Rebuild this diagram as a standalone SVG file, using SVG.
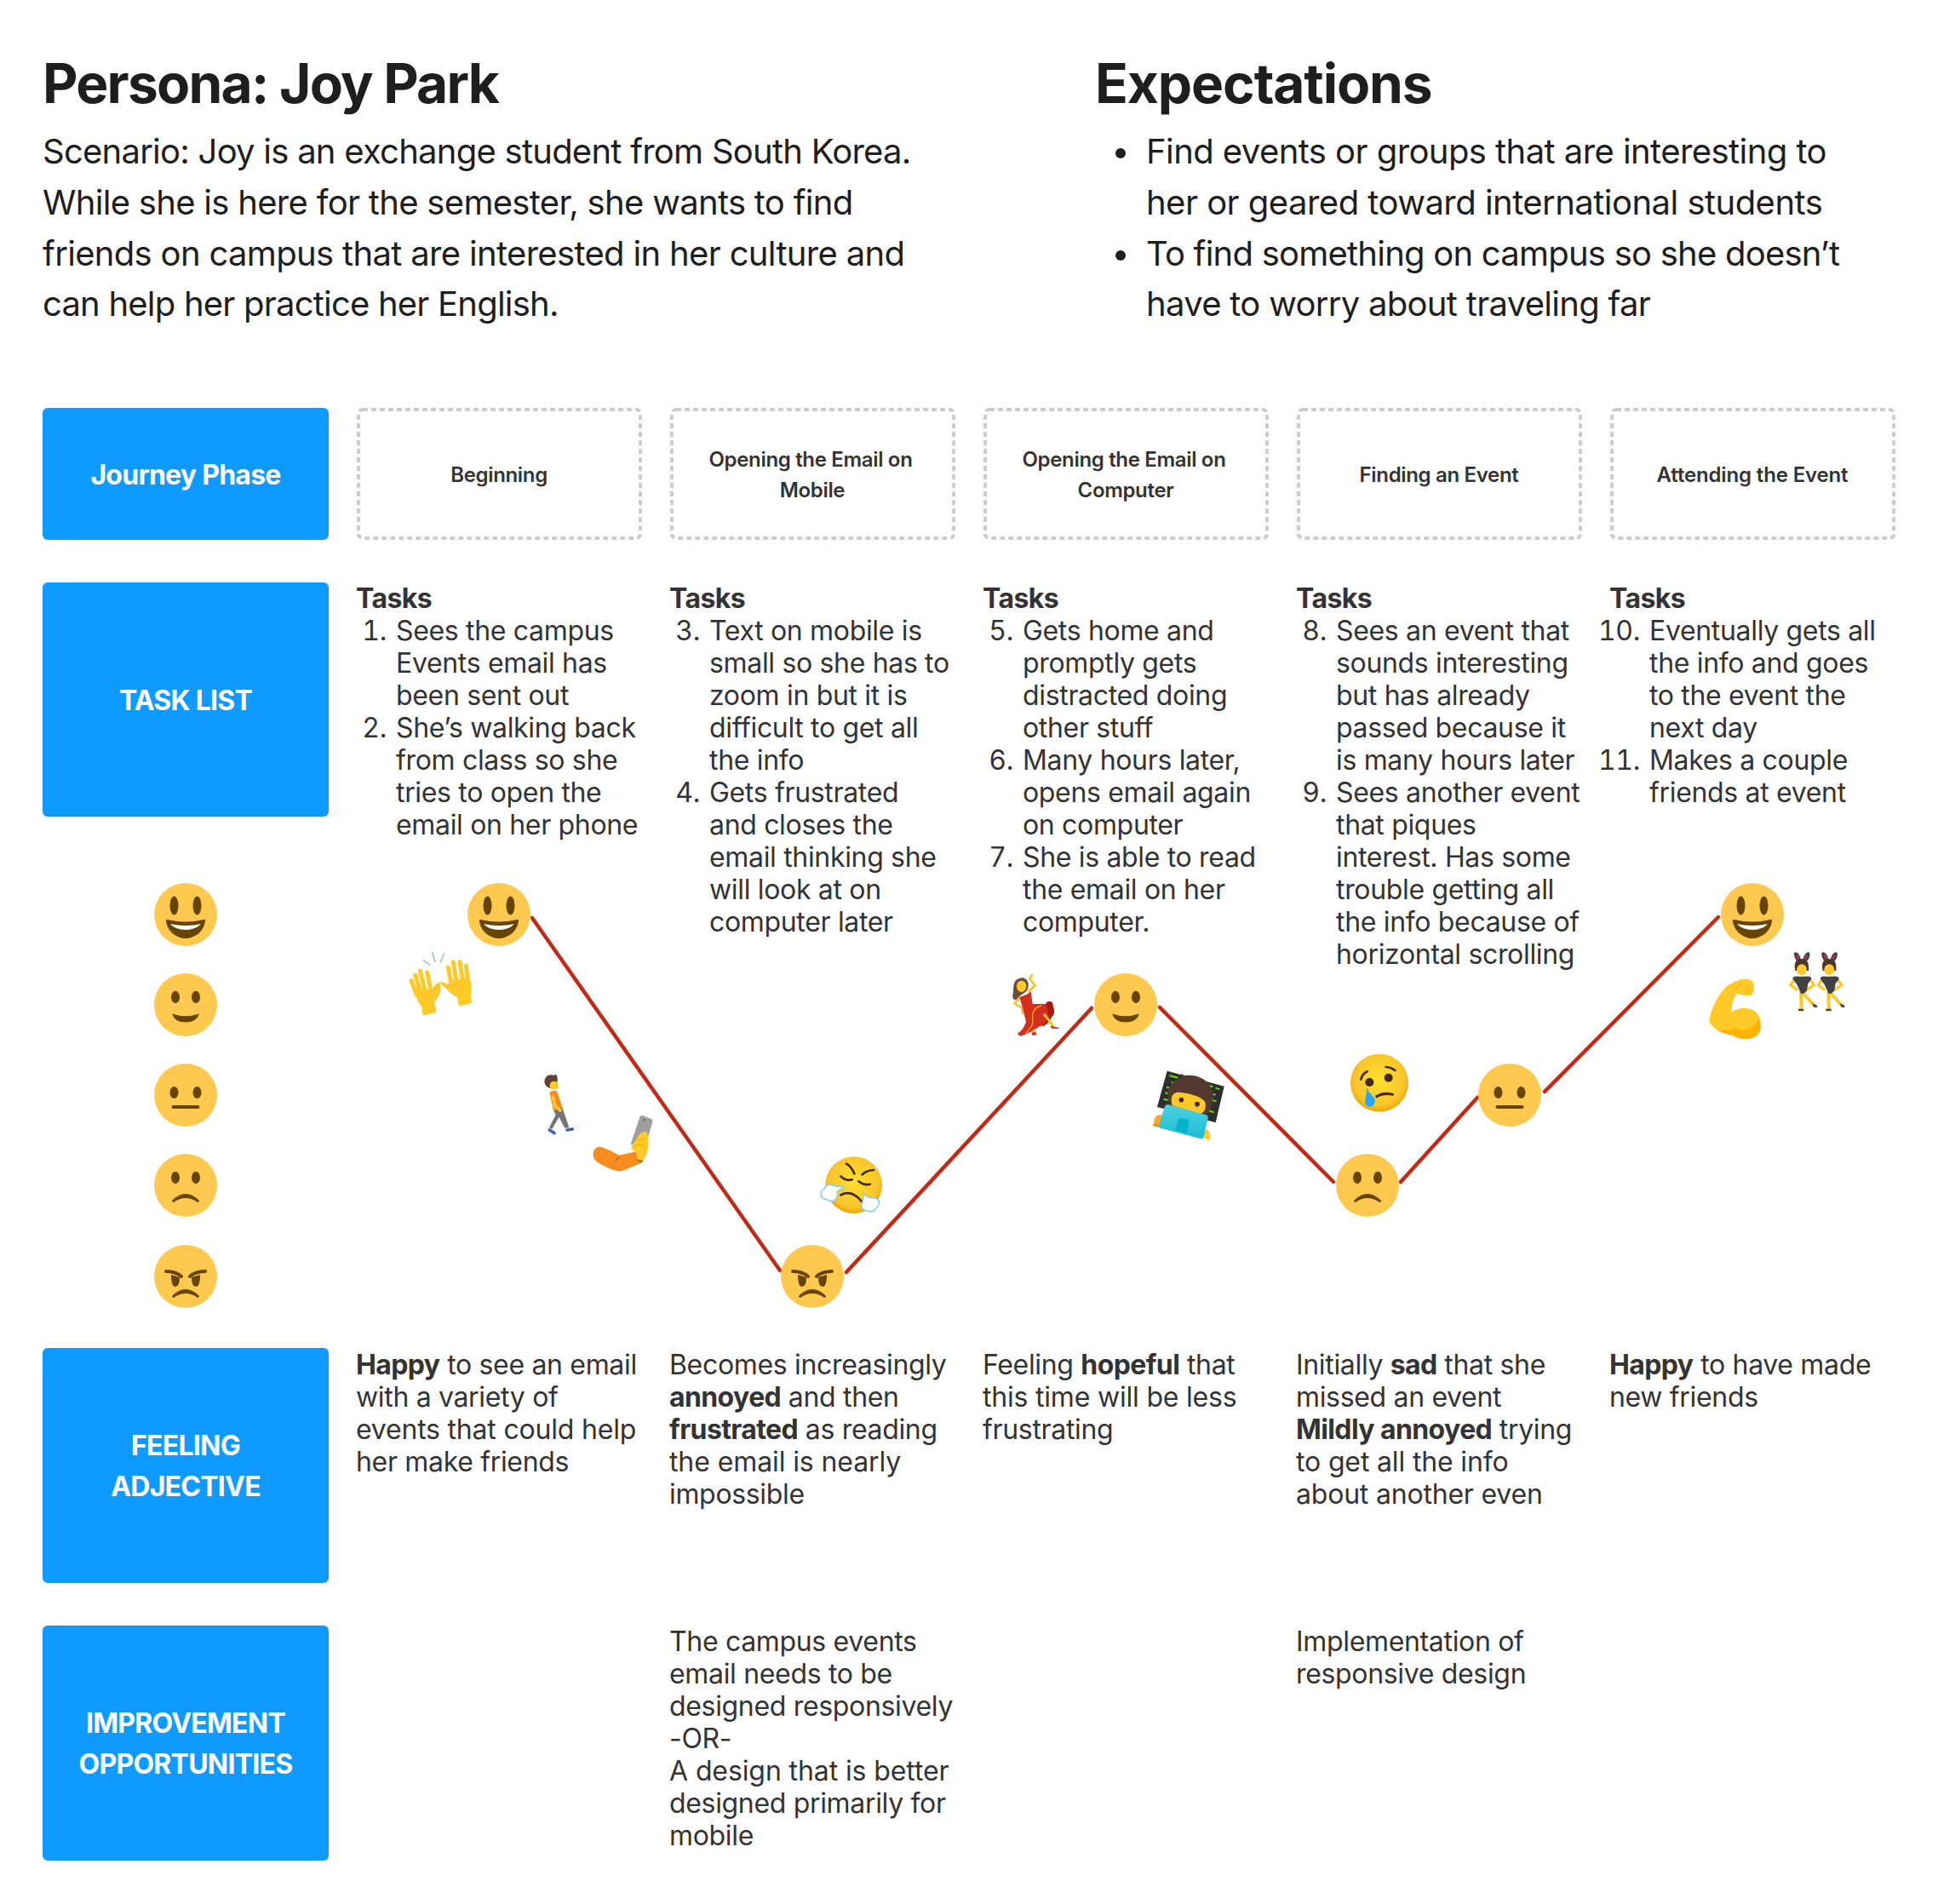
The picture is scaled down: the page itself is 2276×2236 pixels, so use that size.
<svg xmlns="http://www.w3.org/2000/svg" width="2276" height="2236" viewBox="0 0 2276 2236">
<style>
text{font-family:"Inter","Liberation Sans",sans-serif;fill:#333;}
.t{font-size:64px;font-weight:700;fill:#1e1e1e}
.b{font-size:40px;fill:#1e1e1e;letter-spacing:-.7px}
.s{font-size:32px;letter-spacing:-.33px}
.h{font-weight:700;letter-spacing:-.6px}
.n{text-anchor:end;font-variant-numeric:tabular-nums}
.lab{font-size:32px;font-weight:700;fill:#fff;text-anchor:middle;letter-spacing:-.75px}
.ph{font-size:24px;font-weight:600;text-anchor:middle;letter-spacing:-.33px}
.blue{fill:#0f9aff}
.dash{fill:none;stroke:#ccc;stroke-width:4;stroke-dasharray:6 4}
.conn line{stroke:#c12a17;stroke-width:4.5;stroke-linecap:round}
.f{fill:#ffc94f}.d{fill:#664500}
.y{fill:#ffca28}
.ol{fill:none;stroke-linecap:round;stroke-linejoin:round}
.fg{fill:none;stroke:#ffca28;stroke-width:15;stroke-linecap:round}
</style>
<defs>
<radialGradient id="g1" cx=".5" cy=".45" r=".55"><stop offset="0" stop-color="#fde030"/><stop offset=".8" stop-color="#f8c52b"/><stop offset="1" stop-color="#eda600"/></radialGradient>
<linearGradient id="g2" x1="0" y1="0" x2="0" y2="1"><stop offset="0" stop-color="#4dd0e1"/><stop offset="1" stop-color="#1cbcd6"/></linearGradient>
<g id="e5"><circle class="f" r="37"/><ellipse class="d" cx="-13.5" cy="-10.5" rx="5" ry="11"/><ellipse class="d" cx="13.5" cy="-10.5" rx="5" ry="11"/><path class="d" d="M-23 7Q-23 5-21 6Q0 11 21 6Q23 5 23 7C22 20 10 28 0 28C-10 28-22 20-23 7Z"/><path fill="#fff" d="M-18 11Q0 15 18 11Q12 18 0 18Q-12 18-18 11Z"/></g>
<g id="e4"><circle class="f" r="37"/><ellipse class="d" cx="-12" cy="-9" rx="5" ry="7.2"/><ellipse class="d" cx="12" cy="-9" rx="5" ry="7.2"/><path class="d" d="M-16 10.5Q0 16 16 10.5Q13 20.500 0 20.500Q-13 20.500-16 10.500Z"/></g>
<g id="e3"><circle class="f" r="37"/><ellipse class="d" cx="-13.500" cy="-3" rx="5" ry="7"/><ellipse class="d" cx="13.500" cy="-3" rx="5" ry="7"/><rect class="d" x="-16.500" y="12" width="33" height="4" rx="2"/></g>
<g id="e2"><circle class="f" r="37"/><ellipse class="d" cx="-12" cy="-9" rx="5" ry="7.200"/><ellipse class="d" cx="12" cy="-9" rx="5" ry="7.200"/><path class="d" d="M-16 18Q-8 10 0 10Q8 10 16 18Q16 20 14 20Q7 15 0 15Q-7 15-14 20Q-16 20-16 18Z"/></g>
<g id="e1"><circle class="f" r="37"/><path class="d" d="M-17-2L-7 1Q-7 12-12 12Q-17 12-17-2ZM17-2L7 1Q7 12 12 12Q17 12 17-2Z"/><path stroke="#664500" stroke-width="4" fill="none" stroke-linecap="round" d="M-23-6Q-12-6-5 0M23-6Q12-6 5 0"/><path class="d" d="M-16 23Q-8 15 0 15Q8 15 16 23Q16 25 14 25Q7 20 0 20Q-7 20-14 25Q-16 25-16 23Z"/></g>
</defs>
<rect width="2276" height="2236" fill="#fff"/>
<g id="persona">
<text class="t" x="50" y="121" style="letter-spacing:-1.75px">Persona: Joy Park</text>
<text class="b" x="50" y="192" style="letter-spacing:-.75px">Scenario: Joy is an exchange student from South Korea.</text>
<text class="b" x="50" y="252">While she is here for the semester, she wants to find</text>
<text class="b" x="50" y="312" style="letter-spacing:-.67px">friends on campus that are interested in her culture and</text>
<text class="b" x="50" y="371" style="letter-spacing:-.79px">can help her practice her English.</text>
</g>
<g id="expectations">
<text class="t" x="1286" y="121" style="letter-spacing:-1.1px">Expectations</text>
<circle cx="1316" cy="180" r="6" fill="#1e1e1e"/>
<circle cx="1316" cy="300" r="6" fill="#1e1e1e"/>
<text class="b" x="1346" y="192" style="letter-spacing:-.57px">Find events or groups that are interesting to</text>
<text class="b" x="1346" y="252" style="letter-spacing:-.53px">her or geared toward international students</text>
<text class="b" x="1346" y="312" style="letter-spacing:-.77px">To find something on campus so she doesn’t</text>
<text class="b" x="1346" y="371">have to worry about traveling far</text>
</g>
<g id="journey-phase"><rect class="blue" x="50" y="479" width="336" height="155" rx="6"/><text class="lab" x="218" y="569">Journey Phase</text></g>
<g id="phase-1"><rect class="dash" x="421" y="481" width="331" height="151" rx="5"/><text class="ph" x="586" y="566">Beginning</text></g>
<g id="phase-2"><rect class="dash" x="789" y="481" width="331" height="151" rx="5"/><text class="ph" x="952" y="548">Opening the Email on</text><text class="ph" x="954" y="584">Mobile</text></g>
<g id="phase-3"><rect class="dash" x="1157" y="481" width="331" height="151" rx="5"/><text class="ph" x="1320" y="548">Opening the Email on</text><text class="ph" x="1322" y="584">Computer</text></g>
<g id="phase-4"><rect class="dash" x="1525" y="481" width="331" height="151" rx="5"/><text class="ph" x="1690" y="566">Finding an Event</text></g>
<g id="phase-5"><rect class="dash" x="1893" y="481" width="331" height="151" rx="5"/><text class="ph" x="2058" y="566" style="letter-spacing:-.15px">Attending the Event</text></g>

<g id="task-list"><rect class="blue" x="50" y="684" width="336" height="275" rx="6"/><text class="lab" x="218" y="834">TASK LIST</text></g>
<g id="tasks-1">
<text class="s h" x="418" y="714">Tasks</text>
<text class="s n" x="454" y="752">1.</text><text class="s" x="465" y="752">Sees the campus</text>
<text class="s" x="465" y="790">Events email has</text>
<text class="s" x="465" y="828">been sent out</text>
<text class="s n" x="454" y="866">2.</text><text class="s" x="465" y="866">She’s walking back</text>
<text class="s" x="465" y="904">from class so she</text>
<text class="s" x="465" y="942">tries to open the</text>
<text class="s" x="465" y="980">email on her phone</text>
</g>
<g id="tasks-2">
<text class="s h" x="786" y="714">Tasks</text>
<text class="s n" x="822" y="752">3.</text><text class="s" x="833" y="752">Text on mobile is</text>
<text class="s" x="833" y="790">small so she has to</text>
<text class="s" x="833" y="828">zoom in but it is</text>
<text class="s" x="833" y="866">difficult to get all</text>
<text class="s" x="833" y="904">the info</text>
<text class="s n" x="822" y="942">4.</text><text class="s" x="833" y="942">Gets frustrated</text>
<text class="s" x="833" y="980">and closes the</text>
<text class="s" x="833" y="1018">email thinking she</text>
<text class="s" x="833" y="1056">will look at on</text>
<text class="s" x="833" y="1094">computer later</text>
</g>
<g id="tasks-3">
<text class="s h" x="1154" y="714">Tasks</text>
<text class="s n" x="1190" y="752">5.</text><text class="s" x="1201" y="752">Gets home and</text>
<text class="s" x="1201" y="790">promptly gets</text>
<text class="s" x="1201" y="828">distracted doing</text>
<text class="s" x="1201" y="866">other stuff</text>
<text class="s n" x="1190" y="904">6.</text><text class="s" x="1201" y="904">Many hours later,</text>
<text class="s" x="1201" y="942">opens email again</text>
<text class="s" x="1201" y="980">on computer</text>
<text class="s n" x="1190" y="1018">7.</text><text class="s" x="1201" y="1018">She is able to read</text>
<text class="s" x="1201" y="1056">the email on her</text>
<text class="s" x="1201" y="1094">computer.</text>
</g>
<g id="tasks-4">
<text class="s h" x="1522" y="714">Tasks</text>
<text class="s n" x="1558" y="752">8.</text><text class="s" x="1569" y="752">Sees an event that</text>
<text class="s" x="1569" y="790">sounds interesting</text>
<text class="s" x="1569" y="828">but has already</text>
<text class="s" x="1569" y="866">passed because it</text>
<text class="s" x="1569" y="904">is many hours later</text>
<text class="s n" x="1558" y="942">9.</text><text class="s" x="1569" y="942">Sees another event</text>
<text class="s" x="1569" y="980">that piques</text>
<text class="s" x="1569" y="1018">interest. Has some</text>
<text class="s" x="1569" y="1056">trouble getting all</text>
<text class="s" x="1569" y="1094">the info because of</text>
<text class="s" x="1569" y="1132">horizontal scrolling</text>
</g>
<g id="tasks-5">
<text class="s h" x="1890" y="714">Tasks</text>
<text class="s n" x="1926" y="752">10.</text><text class="s" x="1937" y="752">Eventually gets all</text>
<text class="s" x="1937" y="790">the info and goes</text>
<text class="s" x="1937" y="828">to the event the</text>
<text class="s" x="1937" y="866">next day</text>
<text class="s n" x="1926" y="904">11.</text><text class="s" x="1937" y="904">Makes a couple</text>
<text class="s" x="1937" y="942">friends at event</text>
</g>

<g id="scale">
<use href="#e5" x="218" y="1074"/><use href="#e4" x="218" y="1180"/><use href="#e3" x="218" y="1286"/><use href="#e2" x="218" y="1392"/><use href="#e1" x="218" y="1499"/>
</g>
<g id="connectors" class="conn">
<line x1="625" y1="1078" x2="916" y2="1492"/>
<line x1="994" y1="1494" x2="1282" y2="1184"/>
<line x1="1362" y1="1183" x2="1566" y2="1388"/>
<line x1="1645" y1="1388" x2="1735" y2="1289"/>
<line x1="1814" y1="1282" x2="2018" y2="1077"/>
</g>
<g id="point-1"><use href="#e5" x="586" y="1074"/></g>
<g id="point-2"><use href="#e1" x="954" y="1499"/></g>
<g id="point-3"><use href="#e4" x="1322" y="1180"/></g>
<g id="point-4"><use href="#e2" x="1606" y="1392"/></g>
<g id="point-5"><use href="#e3" x="1773" y="1286"/></g>
<g id="point-6"><use href="#e5" x="2058" y="1074"/></g>

<g id="emoji-hands" transform="translate(460 1020) scale(.3333)">
<path class="y" d="M110 518L158 507L150 470C170 450 178 420 170 403C158 398 150 412 145 425L78 420C85 455 95 475 105 485Z"/>
<path class="y" d="M238 485L283 473L278 445C285 420 280 400 272 385L205 395L200 408C190 406 178 396 168 402C185 415 210 445 230 452Z"/>
<path class="fg" d="M88 445L69 395M100 432L83 375M116 425L100 360M138 428L125 366M210 405L199 349M228 398L217 329M250 395L240 329M270 402L262 343"/>
<path fill="none" stroke="#f0b41c" stroke-width="3" d="M120 465C125 440 150 425 165 408M250 432C240 410 215 410 195 408"/>
<path fill="none" stroke="#b0c4cc" stroke-width="5.500" stroke-linecap="round" d="M112 324L135 340M143 296L153 328M185 300L172 330"/>
</g>

<g id="emoji-walker" transform="translate(460 1020) scale(.3333)">
<path fill="#757575" d="M570 850L600 838L625 912L610 915L590 875L565 918L555 912L578 868Z"/>
<path fill="#f78c1f" d="M556 790Q565 778 582 784L602 842L570 852Z"/>
<path fill="none" stroke="#ffca28" stroke-width="11" stroke-linecap="round" d="M568 805L576 838L594 852"/>
<circle cx="561" cy="750" r="23" fill="#5d4037"/><path fill="#5d4037" d="M565 730L580 725L586 745Z"/>
<circle cx="572" cy="764" r="15" class="y"/>
<path fill="none" stroke="#3f64b5" stroke-width="11" stroke-linecap="round" d="M556 921L573 932M618 921L637 918"/>
</g>

<g id="emoji-selfie" transform="translate(460 1020) scale(.3333)">
<path fill="#f78c1f" d="M725 982C735 978 745 982 802 1010L868 995L885 1035L815 1064C795 1070 770 1060 725 1035C705 1022 705 990 725 982Z"/>
<path fill="#b5701f" d="M785 1035Q790 1020 806 1010Q800 1025 785 1035Z"/>
<path fill="#9e9e9e" d="M874 876Q877 868 886 871L912 881Q921 885 919 893L892 985L842 972Z"/>
<circle cx="890" cy="886" r="3" fill="#444"/>
<path class="y" d="M843 985C860 955 880 915 900 930C910 960 905 1010 885 1028Q872 1034 866 1025L862 1002Z"/>
<path fill="none" stroke="#eda600" stroke-width="3" d="M850 960Q870 950 888 955M852 978Q870 968 888 975"/>
<path fill="none" stroke="#333" stroke-width="3" d="M865 1025Q875 1036 885 1028"/>
</g>

<g id="emoji-steam" transform="translate(950 1340) scale(.3333)">
<circle cx="158" cy="155" r="100" fill="url(#g1)"/>
<path class="ol" stroke="#422b0d" stroke-width="8" d="M132 80Q150 90 160 115M188 118Q205 102 228 102M112 124Q130 142 152 136M175 142Q195 158 215 152M112 190Q150 170 185 212"/>
<path fill="#fff" stroke="#90cdf0" stroke-width="5" stroke-linejoin="round" d="M125 160L100 178Q104 205 85 212Q68 212 62 205Q42 205 42 185Q44 170 55 168Q60 150 82 155Q100 162 125 160Z"/>
<path fill="#fff" stroke="#90cdf0" stroke-width="5" stroke-linejoin="round" d="M190 185Q205 200 225 200Q245 200 248 218Q245 232 238 235Q225 256 205 245Q185 245 185 225Q195 210 190 185Z"/>
</g>

<g id="emoji-dancer" transform="translate(1170 1135) scale(.3333)">
<path fill="#6d4c41" d="M90 40C115 40 118 70 108 85C95 100 80 100 75 118Q55 120 58 100C65 85 50 45 90 40Z"/>
<path fill="none" stroke="#fdc228" stroke-width="8" stroke-linejoin="round" d="M112 88L137 68L118 42L128 28M84 108L64 130L90 145L94 170"/>
<ellipse cx="89" cy="70" rx="17" ry="20" class="y"/>
<path fill="#d32f1f" d="M82 108L108 98L122 88L128 132L180 132L190 122Q205 125 198 150Q212 165 195 178Q185 205 150 212Q130 228 100 240Q80 252 76 235Q95 225 105 195Q95 150 82 108Z"/>
<path fill="#a61c00" d="M175 128Q190 115 198 135Q212 160 195 178Q185 205 160 212L185 180Z"/>
<path fill="none" stroke="#f9a825" stroke-width="4" d="M160 138Q125 145 128 185Q135 205 105 235"/>
<path fill="none" stroke="#fdc228" stroke-width="9" stroke-linecap="round" d="M170 170L200 208M133 225L133 238"/>
<path fill="#d32f1f" d="M190 208Q205 215 222 216L220 220L195 218ZM125 232L142 232L140 242L126 242Z"/>
</g>

<g id="emoji-tech" transform="translate(1345 1245) scale(.3333)">
<path fill="#2e2e2e" d="M77 38L278 92L248 220L42 165Z"/>
<path fill="none" stroke="#64dd17" stroke-width="6" d="M85 54L115 62M92 78L102 81M75 95L90 99M70 115L80 118M65 137L80 141M225 90L238 94M248 98L262 103M238 120L248 122M235 140L250 145M222 178L242 184"/>
<path fill="#ffa726" d="M30 228Q30 195 50 192L75 200L60 235Z"/>
<path fill="#f57c00" d="M28 225L60 232L58 236L28 232Z"/>
<path fill="#ffca28" d="M205 270Q205 240 222 245Q232 265 225 285Z"/>
<path fill="#543930" d="M128 46L136 54C190 48 230 72 238 118C242 145 232 175 218 192L205 185L95 158L85 155C72 125 78 85 112 68L128 60Z"/>
<path class="y" d="M93 130C105 105 125 115 150 118C180 125 205 135 212 150C215 175 205 185 195 190L95 160Q90 145 93 130Z"/>
<circle cx="127" cy="140" r="8.500" fill="#3a2a25"/><circle cx="183" cy="155" r="8.500" fill="#3a2a25"/>
<path fill="url(#g2)" d="M82 157L212 192Q224 196 221 205L206 270Q204 279 195 277L55 240Q47 238 48 230L68 165Q72 154 82 157Z"/>
<path fill="#00b4cc" d="M117 210Q120 203 130 205L150 210Q157 214 155 222L145 258L105 248Z"/>
</g>

<g id="emoji-crying" transform="translate(1575 1225) scale(.3333)">
<circle cx="135" cy="140" r="102" fill="url(#g1)"/>
<circle cx="100" cy="138" r="15" fill="#422b0d"/><circle cx="167" cy="122" r="15" fill="#422b0d"/>
<path class="ol" stroke="#422b0d" stroke-width="8" d="M70 128Q75 108 92 100M158 84Q175 85 190 96"/>
<path fill="#422b0d" d="M120 186Q150 165 186 178L184 186Q150 178 124 194Z"/>
<path fill="#29a9f0" d="M90 155C95 175 122 190 120 205C118 218 108 224 102 224C90 224 82 212 85 200C88 185 90 170 90 155Z"/>
</g>

<g id="emoji-bicep" transform="translate(2000 1110) scale(.3333)">
<path class="y" d="M22 265C30 220 60 150 110 130C130 118 170 112 178 135C185 155 175 178 165 178C150 178 130 175 120 170C110 180 100 205 100 238C115 222 150 215 180 230C205 245 212 290 192 315C170 335 140 335 110 320C80 310 30 300 22 265Z"/>
<path fill="#ffb300" d="M115 290Q165 320 197 262C208 290 205 305 190 317C170 335 140 335 110 320C90 314 65 310 45 296Q85 305 115 290Z"/>
<path fill="none" stroke="#eda600" stroke-width="3" d="M118 158Q122 145 135 135M150 140L165 155M145 155L165 165"/>
</g>

<g id="emoji-bunnies" transform="translate(2000 1110) scale(.3333)">
<g id="bunny">
<path fill="#424242" d="M322 25Q338 22 345 50L330 55Q318 40 322 25ZM375 25Q360 22 352 50L368 55Q380 40 375 25Z"/>
<path fill="#e91e63" d="M328 32Q336 34 340 48L333 48ZM370 32Q362 34 357 48L364 48Z"/>
<path fill="#4e342e" d="M323 75Q322 48 348 48Q372 48 372 75L372 90L325 90Z"/>
<ellipse cx="348" cy="86" rx="18" ry="19" class="y"/>
<path fill="none" stroke="#ffca28" stroke-width="10" stroke-linejoin="round" stroke-linecap="round" d="M322 122L308 140L330 156M378 122L392 140L368 156"/>
<path fill="none" stroke="#ffca28" stroke-width="12" stroke-linecap="round" d="M345 168L347 225M352 168L390 210"/>
<path fill="#424242" d="M316 118Q318 108 335 110L362 110Q382 108 382 120L370 135L366 160Q355 175 345 170L332 140Z"/>
<path fill="#424242" d="M336 224L355 224L355 232L336 232ZM385 205L402 212L402 220L390 218Z"/>
</g>
<use href="#bunny" x="97"/>
</g>

<g id="feeling-adjective"><rect class="blue" x="50" y="1583" width="336" height="276" rx="6"/><text class="lab" x="218" y="1709">FEELING</text><text class="lab" x="218" y="1757">ADJECTIVE</text></g>
<g id="feeling-1">
<text class="s" x="418" y="1614"><tspan class="h">Happy</tspan> to see an email</text>
<text class="s" x="418" y="1652">with a variety of</text>
<text class="s" x="418" y="1690" style="letter-spacing:-.2px">events that could help</text>
<text class="s" x="418" y="1728">her make friends</text>
</g>
<g id="feeling-2">
<text class="s" x="786" y="1614">Becomes increasingly</text>
<text class="s" x="786" y="1652"><tspan class="h">annoyed</tspan> and then</text>
<text class="s" x="786" y="1690"><tspan class="h">frustrated</tspan> as reading</text>
<text class="s" x="786" y="1728" style="letter-spacing:-.1px">the email is nearly</text>
<text class="s" x="786" y="1766">impossible</text>
</g>
<g id="feeling-3">
<text class="s" x="1154" y="1614">Feeling <tspan class="h">hopeful</tspan> that</text>
<text class="s" x="1154" y="1652" style="letter-spacing:-.2px">this time will be less</text>
<text class="s" x="1154" y="1690">frustrating</text>
</g>
<g id="feeling-4">
<text class="s" x="1522" y="1614">Initially <tspan class="h">sad</tspan> that she</text>
<text class="s" x="1522" y="1652">missed an event</text>
<text class="s" x="1522" y="1690"><tspan class="h">Mildly annoyed</tspan> trying</text>
<text class="s" x="1522" y="1728" style="letter-spacing:-.15px">to get all the info</text>
<text class="s" x="1522" y="1766" style="letter-spacing:-.2px">about another even</text>
</g>
<g id="feeling-5">
<text class="s" x="1890" y="1614"><tspan class="h">Happy</tspan> to have made</text>
<text class="s" x="1890" y="1652">new friends</text>
</g>

<g id="improvement-opportunities"><rect class="blue" x="50" y="1909" width="336" height="276" rx="6"/><text class="lab" x="218" y="2035">IMPROVEMENT</text><text class="lab" x="218" y="2083">OPPORTUNITIES</text></g>
<g id="improvement-2">
<text class="s" x="786" y="1939">The campus events</text>
<text class="s" x="786" y="1977">email needs to be</text>
<text class="s" x="786" y="2015">designed responsively</text>
<text class="s" x="786" y="2053">-OR-</text>
<text class="s" x="786" y="2091" style="letter-spacing:-.1px">A design that is better</text>
<text class="s" x="786" y="2129">designed primarily for</text>
<text class="s" x="786" y="2167">mobile</text>
</g>
<g id="improvement-4">
<text class="s" x="1522" y="1939">Implementation of</text>
<text class="s" x="1522" y="1977">responsive design</text>
</g>
</svg>
